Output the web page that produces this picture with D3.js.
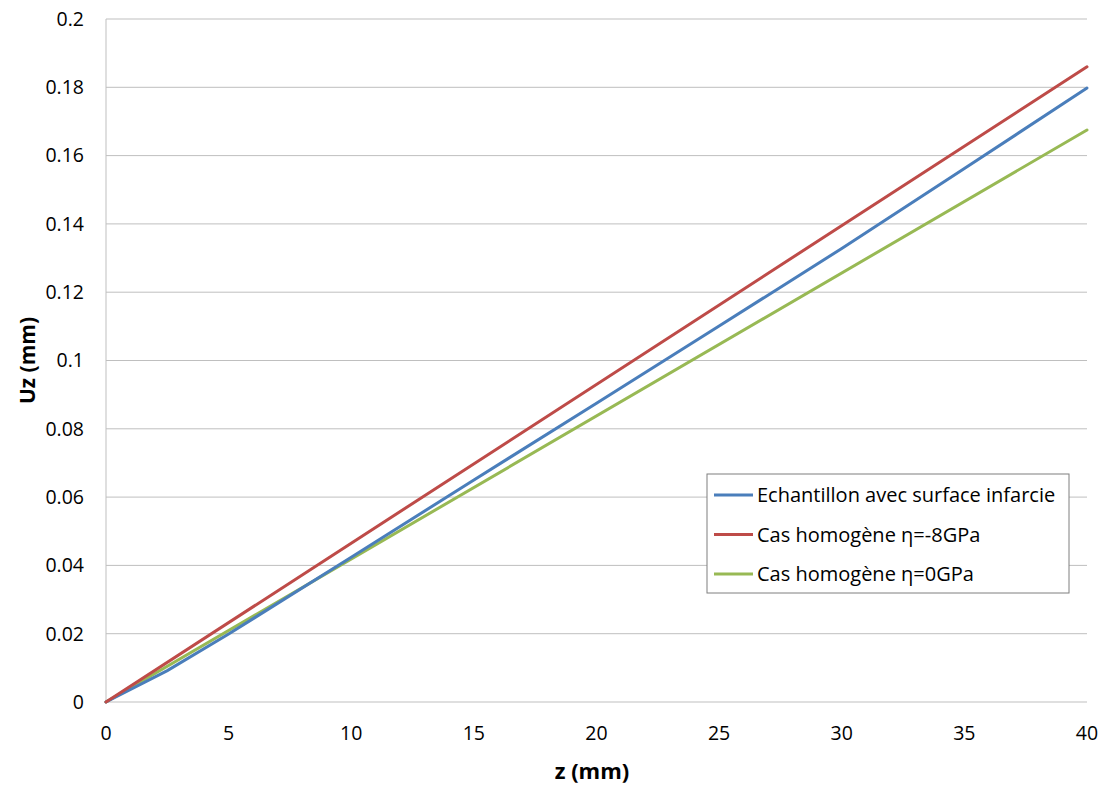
<!DOCTYPE html>
<html>
<head>
<meta charset="utf-8">
<script src="https://cdn.jsdelivr.net/npm/d3@7"></script>
<style>
  body { margin: 0; background: #fff; }
  text { font-family: "Open Sans", "Liberation Sans", sans-serif; fill: #000; }
</style>
</head>
<body>
<svg id="chart" width="1105" height="785"></svg>
<script>
// data
const zBlue = [0, 2.5, 5, 10, 15, 20, 25, 30, 35, 40];
const uBlue = [0, 0.0092, 0.0199, 0.0424, 0.065, 0.0875, 0.1101, 0.1328, 0.1562, 0.1798];
const zRed = [0, 40];
const uRed = [0, 0.186];
const zGreen = [0, 40];
const uGreen = [0, 0.1675];

const seriesNames = ['Echantillon avec surface infarcie', 'Cas homogène η=-8GPa', 'Cas homogène η=0GPa'];
const seriesColors = ['#4a7ebb', '#be4b48', '#98b954'];
const xTicks = [0, 5, 10, 15, 20, 25, 30, 35, 40];
const yTicks = [0, 0.02, 0.04, 0.06, 0.08, 0.1, 0.12, 0.14, 0.16, 0.18, 0.2];

const series = [
    { name: seriesNames[0], color: seriesColors[0], pts: zBlue.map((z, i) => [z, uBlue[i]]) },
    { name: seriesNames[1], color: seriesColors[1], pts: zRed.map((z, i) => [z, uRed[i]]) },
    { name: seriesNames[2], color: seriesColors[2], pts: zGreen.map((z, i) => [z, uGreen[i]]) }
];

const svg = d3.select('#chart');
const plotLeft = 106, plotRight = 1087, plotTop = 19, plotBottom = 702;

const x = d3.scaleLinear().domain([0, 40]).range([plotLeft, plotRight]);
const y = d3.scaleLinear().domain([0, 0.2]).range([plotBottom, plotTop]);

// horizontal grid
svg.append('g')
    .selectAll('line')
    .data(yTicks)
    .join('line')
    .attr('x1', plotLeft).attr('x2', plotRight)
    .attr('y1', d => y(d)).attr('y2', d => y(d))
    .attr('stroke', '#bfbfbf').attr('stroke-width', 1);

// left axis line
svg.append('line')
    .attr('x1', plotLeft).attr('x2', plotLeft)
    .attr('y1', plotTop).attr('y2', plotBottom)
    .attr('stroke', '#bfbfbf');

// y tick labels
svg.append('g')
    .selectAll('text')
    .data(yTicks)
    .join('text')
    .attr('x', plotLeft - 22)
    .attr('y', d => y(d))
    .attr('dy', '0.35em')
    .attr('text-anchor', 'end')
    .style('font-size', '19.5px')
    .text(d => d3.format('~g')(d));

// x tick labels
svg.append('g')
    .selectAll('text')
    .data(xTicks)
    .join('text')
    .attr('x', d => x(d))
    .attr('y', 740)
    .attr('text-anchor', 'middle')
    .style('font-size', '19.5px')
    .text(d => d);

// axis titles
svg.append('text')
    .attr('x', 592)
    .attr('y', 779)
    .attr('text-anchor', 'middle')
    .style('font-size', '22px')
    .style('font-weight', 'bold')
    .text('z (mm)');

svg.append('text')
    .attr('transform', 'translate(35,' + ((plotTop + plotBottom) / 2) + ') rotate(-90)')
    .attr('text-anchor', 'middle')
    .style('font-size', '21px')
    .style('font-weight', 'bold')
    .text('Uz (mm)');

// lines
const line = d3.line().x(d => x(d[0])).y(d => y(d[1]));

svg.append('g')
    .selectAll('path')
    .data([series[2], series[0], series[1]])
    .join('path')
    .attr('d', d => line(d.pts))
    .attr('fill', 'none')
    .attr('stroke', d => d.color)
    .attr('stroke-width', 3)
    .attr('stroke-linecap', 'round');

// legend
const legend = svg.append('g').attr('transform', 'translate(707,474)');

legend.append('rect')
    .attr('width', 362).attr('height', 119)
    .attr('fill', '#fff')
    .attr('stroke', '#7f7f7f');

const rows = legend.selectAll('g')
    .data(series)
    .join('g')
    .attr('transform', (d, i) => 'translate(0,' + (21 + i * 39.5) + ')');

rows.append('line')
    .attr('x1', 7).attr('x2', 46)
    .attr('stroke', d => d.color)
    .attr('stroke-width', 3);

rows.append('text')
    .attr('x', 50)
    .attr('dy', '0.35em')
    .style('font-size', '20px')
    .text(d => d.name);
</script>
</body>
</html>
